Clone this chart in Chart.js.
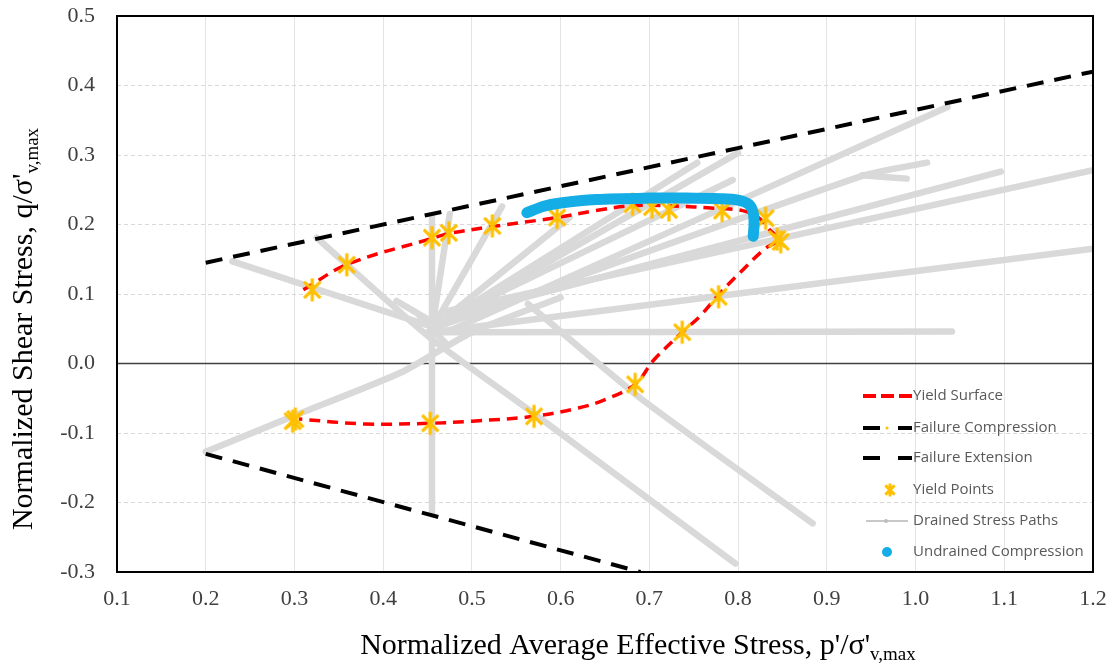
<!DOCTYPE html>
<html>
<head>
<meta charset="utf-8">
<title>Yield surface</title>
<script src="https://cdn.jsdelivr.net/npm/chart.js@4.4.0/dist/chart.umd.min.js"></script>
<style>
  html, body { margin: 0; padding: 0; background: #fff; }
  #wrap { width: 1112px; height: 669px; position: relative; }
</style>
</head>
<body>
<div id="wrap"><canvas id="stressChart"></canvas></div>
<script>
// axis ranges / ticks
const xMin = 0.1, xMax = 1.2, xStep = 0.1;
const yMin = -0.3, yMax = 0.5, yStep = 0.1;

// failure lines
const failCompX = [0.2, 1.2];
const failCompY = [0.145, 0.42];
const failExtX = [0.2, 0.69];
const failExtY = [-0.13, -0.30];

// yield surface (red dashed curve)
const yieldSurfX = [0.31, 0.36, 0.455, 0.474, 0.523, 0.596, 0.64, 0.68, 0.72, 0.78, 0.805, 0.822, 0.836, 0.845, 0.83, 0.80, 0.778, 0.757, 0.737, 0.705, 0.684, 0.65, 0.62, 0.57, 0.50, 0.453, 0.38, 0.305];
const yieldSurfY = [0.106, 0.143, 0.180, 0.187, 0.197, 0.210, 0.220, 0.227, 0.227, 0.223, 0.220, 0.211, 0.192, 0.178, 0.165, 0.128, 0.099, 0.068, 0.045, 0.005, -0.030, -0.052, -0.064, -0.076, -0.083, -0.086, -0.087, -0.080];

// yield points (stars)
const yieldX = [0.320, 0.359, 0.455, 0.474, 0.523, 0.596, 0.681, 0.703, 0.722, 0.782, 0.831, 0.844, 0.848, 0.778, 0.737, 0.684, 0.570, 0.453, 0.301, 0.298];
const yieldY = [0.106, 0.142, 0.181, 0.188, 0.198, 0.210, 0.229, 0.225, 0.221, 0.220, 0.209, 0.179, 0.175, 0.096, 0.045, -0.030, -0.076, -0.086, -0.080, -0.083];

// undrained compression path
const undrainedX = [0.562, 0.58, 0.60, 0.64, 0.70, 0.74, 0.78, 0.80, 0.812, 0.817, 0.818, 0.817];
const undrainedY = [0.217, 0.226, 0.231, 0.236, 0.238, 0.238, 0.237, 0.235, 0.229, 0.217, 0.200, 0.183];

// drained stress paths, one list of [p, q] per test
const drainedPaths = [
  [[0.455, 0.05], [0.455, 0.212]],
  [[0.455, 0.05], [0.455, -0.215]],
  [[0.23, 0.147], [0.33, 0.105], [0.455, 0.053]],
  [[0.325, 0.181], [0.45, 0.04], [0.57, -0.072], [0.797, -0.288]],
  [[0.563, 0.086], [0.69, -0.05], [0.884, -0.23]],
  [[0.2, -0.127], [0.3, -0.075], [0.42, -0.013], [0.5, 0.045], [0.6, 0.095]],
  [[0.45, 0.045], [1.041, 0.046]],
  [[0.455, 0.045], [1.2, 0.165]],
  [[0.47, 0.075], [1.2, 0.278]],
  [[0.455, 0.06], [1.096, 0.276]],
  [[0.455, 0.05], [0.94, 0.27], [1.013, 0.289]],
  [[0.94, 0.271], [0.99, 0.266]],
  [[0.48, 0.05], [1.036, 0.369]],
  [[0.455, 0.05], [0.80, 0.303]],
  [[0.455, 0.05], [0.754, 0.289]],
  [[0.455, 0.055], [0.794, 0.264]],
  [[0.455, 0.05], [0.475, 0.215]],
  [[0.455, 0.05], [0.534, 0.226]],
  [[0.455, 0.05], [0.61, 0.21]],
  [[0.455, 0.06], [0.415, 0.09]],
  [[0.44, 0.07], [0.47, 0.03]]
];

const legendLabels = ['Yield Surface', 'Failure Compression', 'Failure Extension', 'Yield Points', 'Drained Stress Paths', 'Undrained Compression'];

const RED = '#ff0000', BLACK = '#000000', GOLD = '#ffc000', GRAY = '#d9d9d9', BLUE = '#14ade6';

const toPts = (xs, ys) => xs.map((x, i) => ({ x: x, y: ys[i] }));

// asterisk marker like the excel star
function makeStar(size, lw) {
  const c = document.createElement('canvas');
  c.width = size; c.height = size;
  const g = c.getContext('2d');
  const m = size / 2, r = size / 2 - 1.5;
  g.strokeStyle = GOLD;
  g.lineWidth = lw;
  g.beginPath();
  g.moveTo(m, m - r); g.lineTo(m, m + r);
  const d = r * Math.SQRT1_2;
  g.moveTo(m - d, m - d); g.lineTo(m + d, m + d);
  g.moveTo(m + d, m - d); g.lineTo(m - d, m + d);
  g.stroke();
  return c;
}
const starImg = makeStar(26, 3.2);
const starSmall = makeStar(16, 3);

const datasets = [];
datasets.push({
  label: legendLabels[5], data: toPts(undrainedX, undrainedY), showLine: true,
  borderColor: BLUE, borderWidth: 11, borderCapStyle: 'round', borderJoinStyle: 'round',
  tension: 0.3, pointRadius: 0, order: 0
});
datasets.push({
  label: legendLabels[3], data: toPts(yieldX, yieldY), showLine: false,
  pointStyle: starImg, pointRadius: 12, order: 1
});
datasets.push({
  label: legendLabels[0], data: toPts(yieldSurfX, yieldSurfY), showLine: true,
  borderColor: RED, borderWidth: 3.5, borderDash: [11, 7], tension: 0.35,
  pointRadius: 0, order: 2
});
datasets.push({
  label: legendLabels[1], data: toPts(failCompX, failCompY), showLine: true,
  borderColor: BLACK, borderWidth: 4, borderDash: [17, 11], pointRadius: 0, order: 3
});
datasets.push({
  label: legendLabels[2], data: toPts(failExtX, failExtY), showLine: true,
  borderColor: BLACK, borderWidth: 4, borderDash: [17, 11], pointRadius: 0, order: 3
});
drainedPaths.forEach((path, i) => {
  datasets.push({
    label: i === 0 ? legendLabels[4] : '',
    data: path.map(p => ({ x: p[0], y: p[1] })), showLine: true,
    borderColor: GRAY, borderWidth: 6.5, borderCapStyle: 'round', borderJoinStyle: 'round',
    tension: 0.2, pointRadius: 0, order: 5
  });
});

function drawParts(ctx, parts, x, y, rot) {
  ctx.save();
  ctx.translate(x, y);
  if (rot) ctx.rotate(rot);
  ctx.textBaseline = 'alphabetic';
  ctx.textAlign = 'left';
  ctx.fillStyle = '#000';
  let w = 0;
  parts.forEach(p => { ctx.font = p.size + 'px "Liberation Serif", "Times New Roman", serif'; p.w = ctx.measureText(p.t).width; w += p.w; });
  let cx = -w / 2;
  parts.forEach(p => {
    ctx.font = p.size + 'px "Liberation Serif", "Times New Roman", serif';
    ctx.fillText(p.t, cx, p.dy);
    cx += p.w;
  });
  ctx.restore();
}

const decorPlugin = {
  id: 'decor',
  beforeDatasetsDraw(chart) {
    const { ctx, chartArea: a, scales: { y } } = chart;
    const y0 = y.getPixelForValue(0);
    ctx.save();
    ctx.strokeStyle = '#404040';
    ctx.lineWidth = 1.5;
    ctx.beginPath();
    ctx.moveTo(a.left, y0); ctx.lineTo(a.right, y0);
    ctx.stroke();
    ctx.restore();
  },
  afterDraw(chart) {
    const { ctx, chartArea: a } = chart;
    // plot frame
    ctx.save();
    ctx.strokeStyle = '#000';
    ctx.lineWidth = 2;
    ctx.strokeRect(a.left, a.top, a.right - a.left, a.bottom - a.top);
    ctx.restore();

    // axis titles with subscripts
    drawParts(ctx, [
      { t: "Normalized Average Effective Stress, p'/σ'", size: 30, dy: 0 },
      { t: 'v,max', size: 19, dy: 6 }
    ], 638, 654, 0);
    drawParts(ctx, [
      { t: "Normalized Shear Stress, q/σ'", size: 30, dy: 0 },
      { t: 'v,max', size: 19, dy: 6 }
    ], 32, 329, -Math.PI / 2);

    // legend
    const rows = [396, 428, 458, 490, 521, 552];
    const x0 = 863, x1 = 912, tx = 913;
    ctx.save();
    ctx.lineCap = 'butt';
    // yield surface
    ctx.strokeStyle = RED; ctx.lineWidth = 4; ctx.setLineDash([13, 5]);
    ctx.beginPath(); ctx.moveTo(x0, rows[0]); ctx.lineTo(x1, rows[0]); ctx.stroke();
    // failure compression
    ctx.strokeStyle = BLACK; ctx.setLineDash([]);
    ctx.beginPath(); ctx.moveTo(x0, rows[1]); ctx.lineTo(x0 + 17, rows[1]);
    ctx.moveTo(x1 - 14, rows[1]); ctx.lineTo(x1, rows[1]); ctx.stroke();
    ctx.fillStyle = GOLD; ctx.beginPath(); ctx.arc(887, rows[1], 1.5, 0, Math.PI * 2); ctx.fill();
    // failure extension
    ctx.beginPath(); ctx.moveTo(x0, rows[2]); ctx.lineTo(x0 + 17, rows[2]);
    ctx.moveTo(x1 - 14, rows[2]); ctx.lineTo(x1, rows[2]); ctx.stroke();
    // yield points
    ctx.drawImage(starSmall, 890 - 8, rows[3] - 8);
    // drained
    ctx.strokeStyle = '#c8c8c8'; ctx.lineWidth = 2;
    ctx.beginPath(); ctx.moveTo(866, rows[4]); ctx.lineTo(908, rows[4]); ctx.stroke();
    ctx.fillStyle = '#bdbdbd'; ctx.beginPath(); ctx.arc(886, rows[4], 2, 0, Math.PI * 2); ctx.fill();
    // undrained
    ctx.fillStyle = BLUE; ctx.beginPath(); ctx.arc(887, rows[5], 5, 0, Math.PI * 2); ctx.fill();

    ctx.fillStyle = '#595959';
    ctx.font = '15px "Open Sans", "Noto Sans", sans-serif';
    ctx.textBaseline = 'middle';
    ctx.textAlign = 'left';
    legendLabels.forEach((t, i) => ctx.fillText(t, tx, rows[i]));
    ctx.restore();
  }
};

const tickFont = { family: '"Liberation Serif", "Times New Roman", serif', size: 22 };

new Chart(document.getElementById('stressChart'), {
  type: 'scatter',
  data: { datasets: datasets },
  options: {
    responsive: true,
    maintainAspectRatio: false,
    animation: false,
    layout: { padding: { left: 0, right: 19, top: 16, bottom: 0 } },
    plugins: { legend: { display: false }, tooltip: { enabled: false } },
    scales: {
      x: {
        type: 'linear', min: xMin, max: xMax,
        ticks: { stepSize: xStep, padding: 14, color: '#404040', font: tickFont, callback: v => v.toFixed(1) },
        grid: { color: '#e3e3e3', lineWidth: 1, drawTicks: false },
        border: { display: false },
        afterFit: s => { s.height = 97; s.paddingLeft = 0; s.paddingRight = 0; }
      },
      y: {
        type: 'linear', min: yMin, max: yMax,
        ticks: { stepSize: yStep, padding: 22, color: '#404040', font: tickFont, callback: v => v.toFixed(1) },
        grid: { color: '#d9d9d9', lineWidth: 1, drawTicks: false },
        border: { display: false, dash: [4, 3] },
        afterFit: s => { s.width = 117; s.paddingTop = 0; s.paddingBottom = 0; }
      }
    }
  },
  plugins: [decorPlugin]
});
</script>
</body>
</html>
